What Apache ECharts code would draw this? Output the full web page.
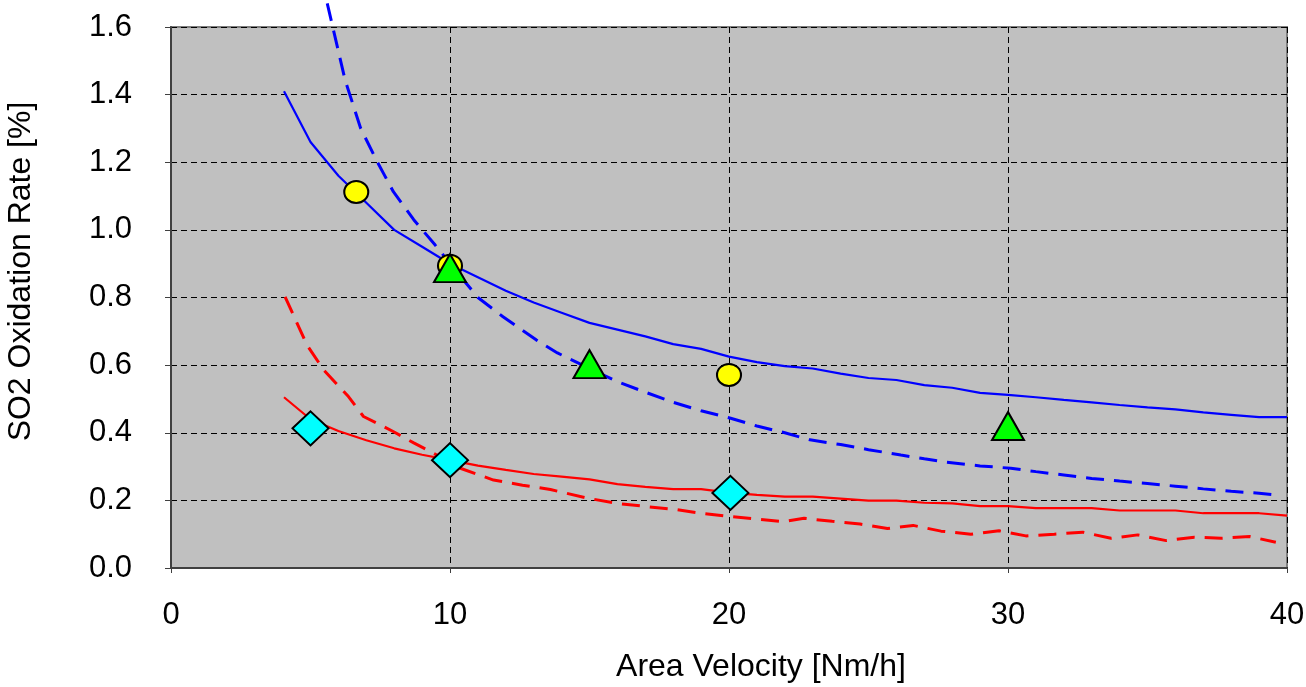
<!DOCTYPE html>
<html>
<head>
<meta charset="utf-8">
<script src="https://cdn.jsdelivr.net/npm/echarts@6/dist/echarts.min.js"></script>
<style>
  html, body { margin: 0; padding: 0; background: #fff; }
  #chart { width: 1306px; height: 687px; }
</style>
</head>
<body>
<div id="chart"></div>
<script>
// solid model curves
const blueSolidX = [4.05, 5, 6, 7, 8, 9, 10, 11, 12, 13, 14, 15, 16, 17, 18, 19, 20, 21, 22, 23, 24, 25, 26, 27, 28, 29, 30, 31, 32, 33, 34, 35, 36, 37, 38, 39, 40];
const blueSolidY = [1.41, 1.26, 1.16, 1.08, 1.0, 0.95, 0.9, 0.86, 0.82, 0.785, 0.755, 0.725, 0.705, 0.685, 0.662, 0.648, 0.625, 0.609, 0.597, 0.59, 0.575, 0.562, 0.556, 0.541, 0.533, 0.518, 0.512, 0.505, 0.497, 0.49, 0.482, 0.475, 0.469, 0.46, 0.453, 0.446, 0.446];
const redSolidX = blueSolidX;
const redSolidY = [0.505, 0.44, 0.405, 0.378, 0.354, 0.335, 0.319, 0.303, 0.29, 0.278, 0.27, 0.262, 0.248, 0.24, 0.233, 0.233, 0.223, 0.216, 0.211, 0.211, 0.205, 0.199, 0.199, 0.193, 0.191, 0.183, 0.183, 0.177, 0.177, 0.177, 0.17, 0.17, 0.17, 0.162, 0.162, 0.162, 0.155];

// dashed model curves
const blueDashX = [5.6, 6.24, 6.8, 7.4, 7.97, 8.7, 9.47, 10.4, 11.0, 11.9, 13.1, 13.85, 15, 16, 17, 18, 19, 20.06, 21, 22, 22.9, 24, 25, 26.16, 27, 27.7, 29, 30.1, 31, 32, 33, 34, 35, 36, 37, 38, 39, 39.6];
const blueDashY = [1.67, 1.443, 1.3, 1.2, 1.113, 1.03, 0.955, 0.86, 0.8, 0.743, 0.674, 0.636, 0.59, 0.551, 0.52, 0.49, 0.465, 0.443, 0.42, 0.4, 0.379, 0.365, 0.35, 0.334, 0.323, 0.314, 0.302, 0.295, 0.285, 0.275, 0.265, 0.257, 0.25, 0.242, 0.234, 0.227, 0.221, 0.216];
const redDashX = [4.09, 4.87, 5.47, 6.36, 6.9, 7.38, 7.98, 8.7, 9.53, 10.37, 11.56, 12.6, 13.6, 14.96, 16, 17, 18, 19, 20.06, 21, 21.96, 22.69, 23.7, 24.7, 25.68, 26.6, 27.6, 28.67, 29.68, 30.64, 31.66, 32.68, 33.69, 34.65, 35.67, 36.68, 37.64, 38.66, 39.6];
const redDashY = [0.802, 0.66, 0.586, 0.507, 0.448, 0.428, 0.403, 0.37, 0.334, 0.295, 0.26, 0.245, 0.232, 0.206, 0.191, 0.182, 0.174, 0.162, 0.152, 0.145, 0.137, 0.147, 0.138, 0.13, 0.117, 0.126, 0.109, 0.1, 0.11, 0.095, 0.1, 0.106, 0.088, 0.098, 0.081, 0.091, 0.088, 0.093, 0.076];

// measured points
const circleX = [6.64, 10, 20];
const circleY = [1.112, 0.894, 0.571];
const triangleX = [10, 15, 30];
const triangleY = [0.887, 0.603, 0.42];
const diamondX = [5, 10, 20.05];
const diamondY = [0.413, 0.319, 0.222];

const xTicks = [0, 10, 20, 30, 40];
const yTicks = [0, 0.2, 0.4, 0.6, 0.8, 1.0, 1.2, 1.4, 1.6];

const zip = (xs, ys) => xs.map((x, i) => [x, ys[i]]);
const font = 'Liberation Sans, Arial, sans-serif';

const chart = echarts.init(document.getElementById('chart'));

function lineSeries(xs, ys, color, dashed) {
  return {
    type: 'line',
    data: zip(xs, ys),
    showSymbol: false,
    symbol: 'none',
    clip: false,
    lineStyle: {
      color: color,
      width: dashed ? 3 : 2.2,
      type: dashed ? [18, 10] : 'solid'
    },
    z: 3
  };
}

function markerSeries(xs, ys, symbol, size, color) {
  return {
    type: 'scatter',
    data: zip(xs, ys),
    symbol: symbol,
    symbolSize: size,
    itemStyle: { color: color, borderColor: '#000', borderWidth: 2, opacity: 1 },
    z: 5
  };
}

chart.setOption({
  animation: false,
  grid: {
    left: 171, top: 27, right: 19, bottom: 119,
    outerBoundsMode: 'none',
    containLabel: false,
    show: true,
    backgroundColor: '#c0c0c0',
    borderColor: '#808080',
    borderWidth: 2
  },
  xAxis: {
    type: 'value',
    min: xTicks[0], max: xTicks[xTicks.length - 1], interval: 10,
    name: 'Area Velocity [Nm/h]',
    nameLocation: 'middle',
    nameGap: 83,
    nameTextStyle: { fontFamily: font, fontSize: 32, color: '#000', padding: [0, 0, 0, 64] },
    axisLine: { show: true, lineStyle: { color: '#404040', width: 2 } },
    axisTick: { show: true, length: 5, lineStyle: { color: '#404040' } },
    axisLabel: { margin: 32, fontFamily: font, fontSize: 31, color: '#000' },
    splitLine: { show: true, lineStyle: { color: '#000', type: [6, 4], width: 1 } }
  },
  yAxis: {
    type: 'value',
    min: yTicks[0], max: yTicks[yTicks.length - 1], interval: 0.2,
    name: 'SO2 Oxidation Rate [%]',
    nameLocation: 'middle',
    nameGap: 134,
    nameTextStyle: { fontFamily: font, fontSize: 32, color: '#000', padding: [0, 0, 0, 52] },
    axisLine: { show: true, lineStyle: { color: '#404040', width: 2 } },
    axisTick: { show: true, length: 6, lineStyle: { color: '#404040' } },
    axisLabel: {
      margin: 39, fontFamily: font, fontSize: 31, color: '#000',
      formatter: v => v.toFixed(1)
    },
    splitLine: { show: true, lineStyle: { color: '#000', type: [6, 4], width: 1 } }
  },
  series: [
    lineSeries(blueSolidX, blueSolidY, '#0000ff', false),
    lineSeries(blueDashX, blueDashY, '#0000ff', true),
    lineSeries(redSolidX, redSolidY, '#ff0000', false),
    lineSeries(redDashX, redDashY, '#ff0000', true),
    markerSeries(circleX, circleY, 'circle', [24, 22], '#ffff00'),
    markerSeries(triangleX, triangleY, 'triangle', [32, 28], '#00ff00'),
    markerSeries(diamondX, diamondY, 'diamond', [36, 34], '#00ffff')
  ]
});

window.addEventListener('resize', () => chart.resize());
</script>
</body>
</html>
